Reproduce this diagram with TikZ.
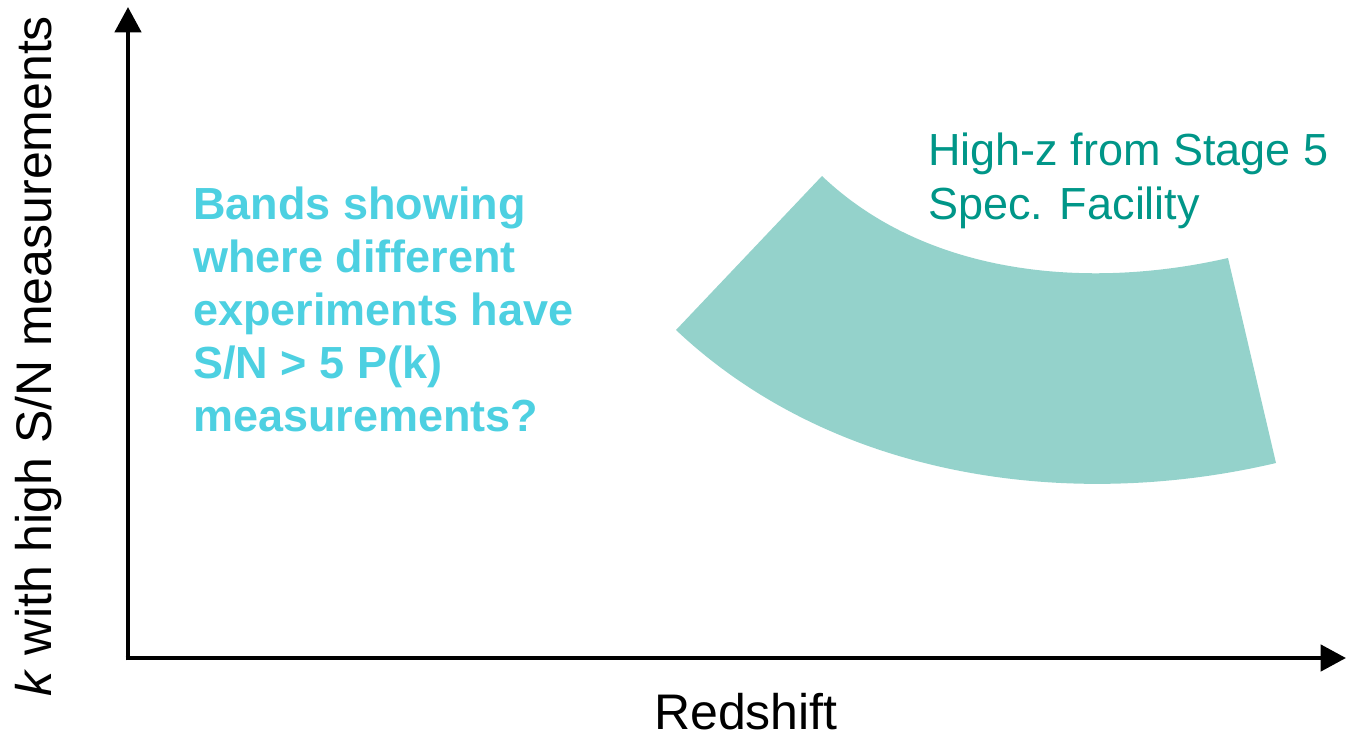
\documentclass[tikz,border=0pt]{standalone}
\usepackage{fontspec}
\setmainfont{Liberation Sans}
\usetikzlibrary{arrows.meta}
\definecolor{bandfill}{RGB}{148,210,203}
\definecolor{tealtext}{RGB}{0,150,136}
\definecolor{cyantext}{RGB}{77,208,225}
\tikzset{
  axisline/.style={line width=3.4pt, -{Triangle[length=19pt,width=19.5pt]}},
  bigtext/.style={font=\fontsize{37.5}{45}\selectfont, inner sep=0pt},
  notetext/.style={font=\fontsize{33.75}{39.75}\selectfont, inner sep=0pt, align=left, anchor=north west},
}
\begin{document}
\begin{tikzpicture}[x=0.75pt,y=-0.75pt]
\useasboundingbox (0,0) rectangle (1347,735);
% band (block arc)
\coordinate (bandA) at (822,176);
\coordinate (bandB) at (1228,258);
\coordinate (bandD) at (1276,463);
\coordinate (bandC) at (676,330);
\fill[bandfill] (bandA) .. controls (929,278) and (1093,289) .. (bandB)
  -- (bandD) .. controls (1072,511) and (835,480) .. (bandC) -- cycle;
% axes
\coordinate (origin) at (128,658);
\coordinate (ytip) at (128,7);
\coordinate (xtip) at (1346,658);
\draw[axisline] ([yshift=-1.7pt]origin) -- (ytip);
\draw[axisline] ([xshift=-1.7pt]origin) -- (xtip);
% labels
\node[bigtext, anchor=base] (xlabel) at (746,729) {Redshift};
\node[bigtext, anchor=base, rotate=90] (ylabel) at (51,356) {\textit{k} with high S/N measurements};
\node[notetext, text=cyantext, font=\fontsize{33.75}{39.75}\selectfont\bfseries] (note) at (193,187)
  {Bands showing\\where different\\experiments have\\S/N > 5 P(k)\\measurements?};
\node[notetext, text=tealtext, font=\fontsize{33.75}{40.5}\selectfont] (band) at (928,133)
  {High-z from Stage 5\\Spec. Facility};
\end{tikzpicture}
\end{document}
